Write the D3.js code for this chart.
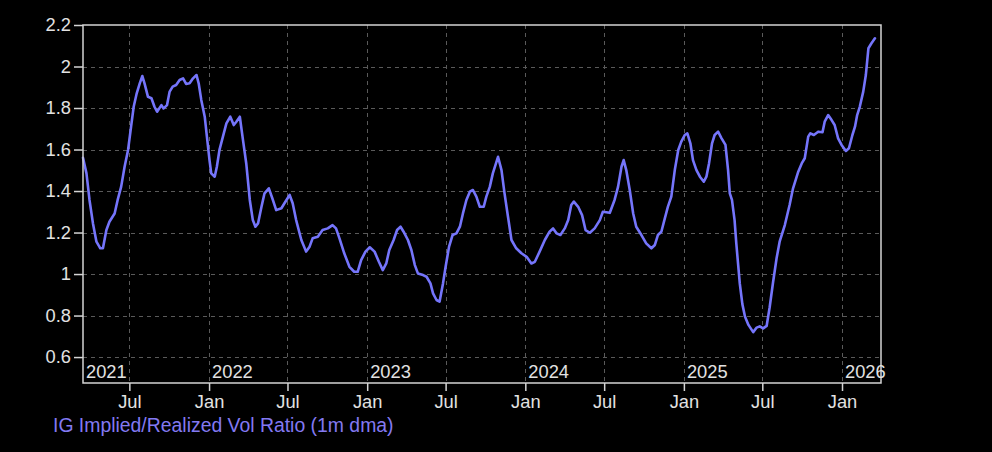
<!DOCTYPE html>
<html>
<head>
<meta charset="utf-8">
<script src="https://cdn.jsdelivr.net/npm/d3@7"></script>
<style>
  html, body { margin: 0; padding: 0; background: #000; }
  svg { display: block; }
  text { font-family: "Liberation Sans", Arial, sans-serif; }
</style>
</head>
<body>
<svg id="chart" width="992" height="452"></svg>
<script>
// ---- Data ----
const seriesName = "IG Implied/Realized Vol Ratio (1m dma)";
const dates = [
"2021-03-16","2021-03-24","2021-03-31","2021-04-08","2021-04-16","2021-04-25","2021-05-01","2021-05-09","2021-05-16","2021-05-28",
"2021-06-04","2021-06-12","2021-06-20","2021-06-28","2021-07-05","2021-07-11","2021-07-18","2021-07-25","2021-07-31","2021-08-05",
"2021-08-13","2021-08-21","2021-08-28","2021-09-03","2021-09-13","2021-09-18","2021-09-26","2021-10-02","2021-10-09","2021-10-17",
"2021-10-25","2021-11-02","2021-11-09","2021-11-17","2021-11-25","2021-12-03","2021-12-08","2021-12-14","2021-12-22","2021-12-27",
"2022-01-02","2022-01-06","2022-01-14","2022-01-19","2022-01-25","2022-02-02","2022-02-10","2022-02-19","2022-02-27","2022-03-05",
"2022-03-13","2022-03-20","2022-03-28","2022-04-05","2022-04-12","2022-04-18","2022-04-24","2022-05-02","2022-05-09","2022-05-19",
"2022-05-27","2022-06-05","2022-06-17","2022-06-24","2022-07-06","2022-07-13","2022-07-21","2022-08-02","2022-08-13","2022-08-21",
"2022-08-28","2022-09-09","2022-09-20","2022-10-02","2022-10-13","2022-10-21","2022-10-29","2022-11-09","2022-11-21","2022-12-02",
"2022-12-10","2022-12-18","2022-12-28","2023-01-07","2023-01-18","2023-01-28","2023-02-06","2023-02-14","2023-02-21","2023-03-03",
"2023-03-11","2023-03-19","2023-03-26","2023-04-05","2023-04-13","2023-04-21","2023-04-28","2023-05-10","2023-05-18","2023-05-27",
"2023-06-02","2023-06-10","2023-06-17","2023-06-25","2023-07-01","2023-07-09","2023-07-17","2023-07-26","2023-08-03","2023-08-10",
"2023-08-18","2023-08-26","2023-09-02","2023-09-10","2023-09-18","2023-09-27","2023-10-03","2023-10-11","2023-10-18","2023-10-30",
"2023-11-07","2023-11-14","2023-11-22","2023-11-30","2023-12-11","2023-12-23","2024-01-04","2024-01-15","2024-01-23","2024-02-03",
"2024-02-15","2024-02-26","2024-03-05","2024-03-13","2024-03-22","2024-04-01","2024-04-09","2024-04-16","2024-04-22","2024-05-02",
"2024-05-11","2024-05-19","2024-05-29","2024-06-09","2024-06-21","2024-06-28","2024-07-14","2024-07-25","2024-08-02","2024-08-10",
"2024-08-15","2024-08-21","2024-08-29","2024-09-06","2024-09-13","2024-09-25","2024-10-06","2024-10-18","2024-10-26","2024-11-02",
"2024-11-10","2024-11-18","2024-11-25","2024-12-03","2024-12-11","2024-12-19","2024-12-26","2025-01-03","2025-01-09","2025-01-16",
"2025-01-22","2025-01-30","2025-02-07","2025-02-16","2025-02-22","2025-02-28","2025-03-07","2025-03-13","2025-03-21","2025-03-29",
"2025-04-07","2025-04-13","2025-04-17","2025-04-22","2025-04-28","2025-05-02","2025-05-06","2025-05-10","2025-05-16","2025-05-22",
"2025-05-30","2025-06-10","2025-06-18","2025-06-25","2025-07-03","2025-07-11","2025-07-18","2025-07-26","2025-08-03","2025-08-10",
"2025-08-22","2025-09-02","2025-09-10","2025-09-22","2025-09-30","2025-10-07","2025-10-15","2025-10-20","2025-10-28","2025-11-07",
"2025-11-17","2025-11-22","2025-11-30","2025-12-08","2025-12-15","2025-12-23","2025-12-31","2026-01-10","2026-01-17","2026-01-25",
"2026-01-31","2026-02-05","2026-02-11","2026-02-19","2026-02-25","2026-03-03","2026-03-10","2026-03-18"
];
const ratio = [
1.56,1.485,1.357,1.244,1.156,1.124,1.124,1.212,1.252,1.292,
1.357,1.42,1.517,1.598,1.71,1.806,1.871,1.919,1.954,1.919,
1.854,1.847,1.806,1.782,1.814,1.798,1.814,1.879,1.903,1.911,
1.935,1.943,1.916,1.919,1.943,1.959,1.919,1.839,1.758,1.662,
1.549,1.485,1.469,1.517,1.598,1.662,1.726,1.758,1.718,1.734,
1.758,1.65,1.53,1.357,1.26,1.228,1.244,1.324,1.389,1.413,
1.365,1.308,1.317,1.341,1.381,1.341,1.26,1.164,1.108,1.132,
1.172,1.18,1.212,1.22,1.236,1.22,1.172,1.1,1.035,1.011,
1.011,1.067,1.108,1.129,1.108,1.059,1.019,1.051,1.116,1.164,
1.212,1.228,1.204,1.164,1.116,1.043,1.003,0.995,0.987,0.955,
0.907,0.875,0.867,0.955,1.035,1.132,1.188,1.196,1.228,1.292,
1.357,1.397,1.405,1.373,1.324,1.324,1.373,1.42,1.485,1.565,
1.501,1.389,1.276,1.164,1.124,1.1,1.083,1.051,1.059,1.108,
1.164,1.204,1.22,1.196,1.188,1.22,1.26,1.333,1.349,1.324,
1.284,1.212,1.199,1.22,1.26,1.3,1.295,1.357,1.42,1.517,
1.549,1.501,1.405,1.292,1.228,1.188,1.148,1.124,1.14,1.188,
1.204,1.268,1.324,1.373,1.501,1.598,1.638,1.67,1.678,1.63,
1.549,1.501,1.469,1.445,1.469,1.533,1.63,1.67,1.686,1.654,
1.622,1.501,1.389,1.357,1.26,1.148,1.051,0.955,0.855,0.795,
0.755,0.72,0.742,0.748,0.738,0.75,0.84,0.963,1.076,1.156,
1.236,1.333,1.413,1.493,1.533,1.558,1.662,1.678,1.67,1.686,
1.683,1.734,1.766,1.742,1.718,1.654,1.622,1.593,1.606,1.67,
1.71,1.766,1.806,1.879,1.959,2.088,2.112,2.136
];
const yTicks = [0.6, 0.8, 1, 1.2, 1.4, 1.6, 1.8, 2, 2.2];
const xTickDates = ["2021-07-01","2022-01-01","2022-07-01","2023-01-01","2023-07-01","2024-01-01","2024-07-01","2025-01-01","2025-07-01","2026-01-01"];
const xTickLabels = ["Jul","Jan","Jul","Jan","Jul","Jan","Jul","Jan","Jul","Jan"];
const yearLabels = ["2021","2022","2023","2024","2025","2026"];
const xDomain = ["2021-03-16","2026-04-01"];
const yDomain = [0.475, 2.2];

// ---- Build ----
const parse = d3.timeParse("%Y-%m-%d");
const data = dates.map((d, i) => ({ date: parse(d), value: ratio[i] }));

const plot = { left: 83, top: 25, right: 881, bottom: 383 };
const svg = d3.select("#chart");
svg.append("rect").attr("width", 992).attr("height", 452).attr("fill", "#000");

const x = d3.scaleTime().domain(xDomain.map(parse)).range([plot.left, plot.right]);
const y = d3.scaleLinear().domain(yDomain).range([plot.bottom, plot.top]);

const labelColor = "#e2e2e2";
const fontSize = 18.3;
const legendFontSize = 19.4;

// grid
const grid = svg.append("g").attr("stroke", "#5a5a5a").attr("stroke-width", 1).attr("stroke-dasharray", "4,4");
grid.selectAll("line.h").data(yTicks.filter(v => v < 2.2)).join("line")
  .attr("x1", plot.left).attr("x2", plot.right)
  .attr("y1", d => Math.round(y(d)) + 0.5).attr("y2", d => Math.round(y(d)) + 0.5);
grid.selectAll("line.v").data(xTickDates.map(parse)).join("line")
  .attr("y1", plot.top).attr("y2", plot.bottom)
  .attr("x1", d => Math.round(x(d)) + 0.5).attr("x2", d => Math.round(x(d)) + 0.5);

// line
const line = d3.line().x(d => x(d.date)).y(d => y(d.value)).curve(d3.curveLinear);
svg.append("path").datum(data)
  .attr("fill", "none").attr("stroke", "#7575fb").attr("stroke-width", 2.6)
  .attr("stroke-linejoin", "round").attr("stroke-linecap", "round")
  .attr("d", line);

// frame
svg.append("rect")
  .attr("x", plot.left).attr("y", plot.top)
  .attr("width", plot.right - plot.left).attr("height", plot.bottom - plot.top)
  .attr("fill", "none").attr("stroke", "#d4d4d4").attr("stroke-width", 1.5);

// y axis
const yAxis = d3.axisLeft(y).tickValues(yTicks).tickSize(9).tickPadding(3)
  .tickFormat(d => d3.format("~g")(d));
const gy = svg.append("g").attr("transform", `translate(${plot.left},0)`).call(yAxis);
gy.select(".domain").remove();
gy.selectAll(".tick line").attr("stroke", "#d4d4d4").attr("stroke-width", 1.5);
gy.selectAll(".tick text").attr("fill", labelColor).attr("font-size", fontSize)
  .attr("font-family", "Liberation Sans, Arial, sans-serif");

// x axis
const xAxis = d3.axisBottom(x).tickValues(xTickDates.map(parse)).tickSize(8).tickPadding(4)
  .tickFormat((d, i) => xTickLabels[i]);
const gx = svg.append("g").attr("transform", `translate(0,${plot.bottom})`).call(xAxis);
gx.select(".domain").remove();
gx.selectAll(".tick line").attr("stroke", "#d4d4d4").attr("stroke-width", 1.5);
gx.selectAll(".tick text").attr("fill", labelColor).attr("font-size", fontSize)
  .attr("font-family", "Liberation Sans, Arial, sans-serif");

// year labels inside the plot
svg.append("g").selectAll("text").data(yearLabels).join("text")
  .attr("x", d => Math.max(x(parse(d + "-01-01")), plot.left) + 3)
  .attr("y", plot.bottom - 5)
  .attr("fill", labelColor).attr("font-size", fontSize)
  .text(d => d);

// legend
svg.append("text")
  .attr("x", 53).attr("y", 432)
  .attr("fill", "#8379f2").attr("font-size", legendFontSize)
  .text(seriesName);
</script>
</body>
</html>
